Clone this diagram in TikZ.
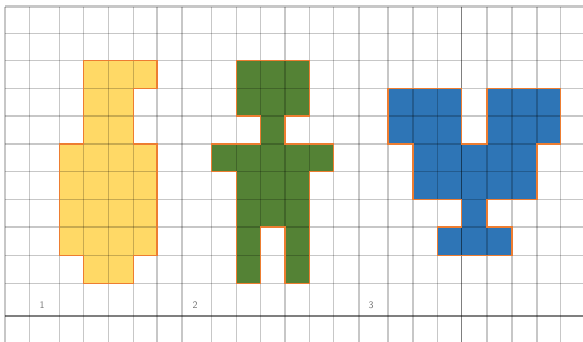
\documentclass[tikz,border=0pt]{standalone}
\usetikzlibrary{positioning}

\definecolor{figyellow}{HTML}{FFD966}
\definecolor{figgreen}{HTML}{548235}
\definecolor{figblue}{HTML}{2E75B6}
\definecolor{figedge}{HTML}{ED7D31}

\begin{document}
\begin{tikzpicture}[
    x=1pt, y=-1pt,
    gridline/.style={black, opacity=0.22, line width=1.3pt},
    axisline/.style={black, opacity=0.5, line width=1.3pt},
    figure/.style={draw=figedge, line width=1.4pt, line join=miter},
    number/.style={font=\fontsize{10}{10}\selectfont\sffamily, text=black!55, inner sep=0pt}
]
\useasboundingbox (0,0) rectangle (583,342);

% Figures (filled first, grid on top)
\fill[figyellow] (83.3,60.5) -- (157,60.5) -- (157,88.5) -- (133.3,88.5) -- (133.3,144) -- (157,144)
    -- (157,255.5) -- (133.3,255.5) -- (133.3,283.3) -- (83.3,283.3) -- (83.3,255.5) -- (59.3,255.5)
    -- (59.3,144) -- (83.3,144) -- cycle;
\fill[figgreen] (236.5,60.5) -- (309.5,60.5) -- (309.5,116) -- (285,116) -- (285,144) -- (333.7,144)
    -- (333.7,171.5) -- (309.5,171.5) -- (309.5,283.3) -- (285,283.3) -- (285,227) -- (260.5,227)
    -- (260.5,283.3) -- (236.5,283.3) -- (236.5,171.5) -- (211.7,171.5) -- (211.7,144) -- (260.5,144)
    -- (260.5,116) -- (236.5,116) -- cycle;
\fill[figblue] (388,88.5) -- (461.5,88.5) -- (461.5,144) -- (487,144) -- (487,88.5) -- (560.5,88.5)
    -- (560.5,144) -- (537,144) -- (537,199.5) -- (487,199.5) -- (487,227) -- (512,227) -- (512,255.5)
    -- (437.5,255.5) -- (437.5,227) -- (461.5,227) -- (461.5,199.5) -- (413,199.5) -- (413,144)
    -- (388,144) -- cycle;

% Grid
\foreach \gx in {5, 29.3, 59.3, 83.3, 108.3, 133.3, 157, 182, 211.7, 236.5, 260.5, 285, 309.5,
    333.7, 359, 388, 413, 437.5, 487, 512, 537, 560.5} {
    \draw[gridline] (\gx,6.7) -- (\gx,342);
}
\draw[axisline] (461.5,6.7) -- (461.5,342);
\foreach \gy in {33.3, 60.5, 88.5, 116, 144, 171.5, 199.5, 227, 255.5, 283.3} {
    \draw[gridline] (5,\gy) -- (583,\gy);
}
\draw[gridline, line width=2.5pt] (5,6.7) -- (583,6.7);
\draw[axisline] (5,316) -- (583,316);

% Outlines
\draw[figure] (83.3,60.5) -- (157,60.5) -- (157,88.5) -- (133.3,88.5) -- (133.3,144) -- (157,144)
    -- (157,255.5) -- (133.3,255.5) -- (133.3,283.3) -- (83.3,283.3) -- (83.3,255.5) -- (59.3,255.5)
    -- (59.3,144) -- (83.3,144) -- cycle;
\draw[figure] (236.5,60.5) -- (309.5,60.5) -- (309.5,116) -- (285,116) -- (285,144) -- (333.7,144)
    -- (333.7,171.5) -- (309.5,171.5) -- (309.5,283.3) -- (285,283.3) -- (285,227) -- (260.5,227)
    -- (260.5,283.3) -- (236.5,283.3) -- (236.5,171.5) -- (211.7,171.5) -- (211.7,144) -- (260.5,144)
    -- (260.5,116) -- (236.5,116) -- cycle;
\draw[figure] (388,88.5) -- (461.5,88.5) -- (461.5,144) -- (487,144) -- (487,88.5) -- (560.5,88.5)
    -- (560.5,144) -- (537,144) -- (537,199.5) -- (487,199.5) -- (487,227) -- (512,227) -- (512,255.5)
    -- (437.5,255.5) -- (437.5,227) -- (461.5,227) -- (461.5,199.5) -- (413,199.5) -- (413,144)
    -- (388,144) -- cycle;

% Numbers
\node[number] (lab1) at (42,305) {1};
\node[number] (lab2) at (195,305) {2};
\node[number] (lab3) at (371,305) {3};

\end{tikzpicture}
\end{document}
